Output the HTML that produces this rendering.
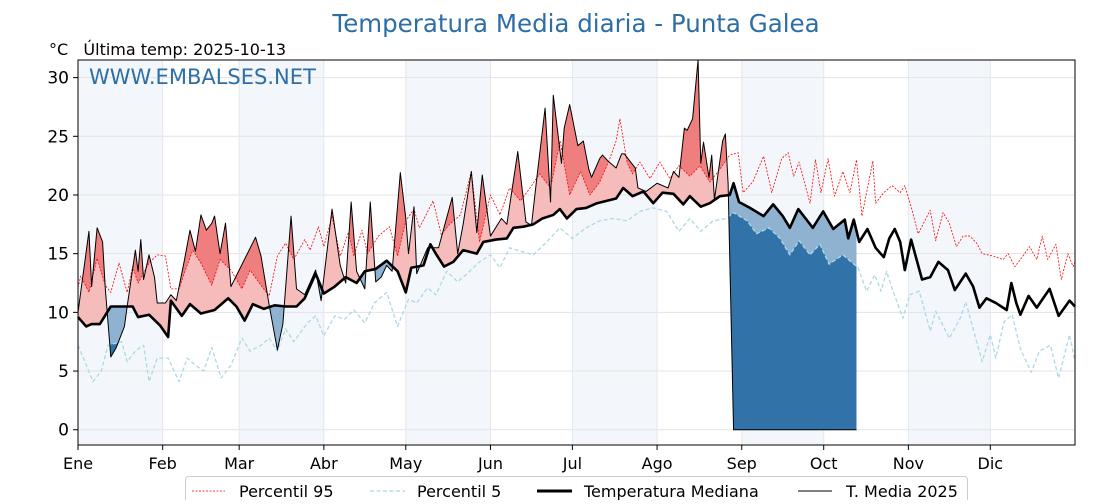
<!DOCTYPE html>
<html><head><meta charset="utf-8"><style>
html,body{margin:0;padding:0;background:#fff;}
body{width:1120px;height:500px;overflow:hidden;font-family:"DejaVu Sans","Liberation Sans",sans-serif;}
svg text{font-family:"DejaVu Sans","Liberation Sans",sans-serif;}
</style></head><body>
<svg id="chart" width="1120" height="500" xmlns="http://www.w3.org/2000/svg">
<text x="576" y="32" text-anchor="middle" font-size="24.5" fill="#2e6ea6">Temperatura Media diaria - Punta Galea</text>
<text x="49" y="55" font-size="16" fill="#000">°C&#160;&#160;&#160;Última temp: 2025-10-13</text>
<g id="bands"></g><g id="grid"></g><g id="fills"></g><g id="lines"></g>
<rect x="78" y="60" width="997" height="385" fill="none" stroke="#000" stroke-width="1"/>
<text x="89" y="84" font-size="21" fill="#2e6ea6">WWW.EMBALSES.NET</text>
<g id="axes"></g>
<g>
<rect x="185.5" y="476.5" width="782" height="30" rx="3" fill="#fff" stroke="#ccc"/>
<line x1="192" y1="491" x2="225" y2="491" stroke="red" stroke-width="0.8" stroke-dasharray="2,1.5"/>
<text x="239" y="497" font-size="16">Percentil 95</text>
<line x1="370" y1="491" x2="405" y2="491" stroke="#add8e6" stroke-width="1.2" stroke-dasharray="4,2.5"/>
<text x="417" y="497" font-size="16">Percentil 5</text>
<line x1="537" y1="491" x2="572" y2="491" stroke="#000" stroke-width="3"/>
<text x="584" y="497" font-size="16">Temperatura Mediana</text>
<line x1="798" y1="491" x2="832" y2="491" stroke="#000" stroke-width="1"/>
<text x="846" y="497" font-size="16">T. Media 2025</text>
</g>
</svg>
<script>
const monthLabels=["Ene","Feb","Mar","Abr","May","Jun","Jul","Ago","Sep","Oct","Nov","Dic"];
const monthStarts=[0,31,59,90,120,151,181,212,243,273,304,334];
const yTicks=[0,5,10,15,20,25,30];
const medianDays=[0,3,5,8,12,20,22,26,30,33,34,38,41,45,50,55,58,61,64,68,72,76,80,83,87,90,94,98,102,105,109,113,117,120,122,126.5,129,131,134,137.4,141,146,148.4,153,157,159.4,163,166.7,170,174,176.4,179,182.5,186,190,193.5,197,199.6,203,207,210.6,214,218,221.6,224,228,231.3,235,238.6,240,242,246,251,254.5,258,260.6,263.7,266.7,269,272.8,276.5,280.7,282,284,286,289,292,295,297,299,301,302.7,305,309,312,315,318.5,321,325,327.7,330,332.6,336,340,341.7,343.5,345,348,351,355.7,359,363,365];
const medianVals=[9.6,8.8,9,9,10.5,10.5,9.6,9.8,8.9,7.9,11,9.7,10.7,9.9,10.2,11.2,10.5,9.3,10.7,10.3,10.6,10.5,10.5,11.2,13.3,11.6,12.2,13,12.5,13.5,13.7,14.4,13.5,11.7,13.8,14,15.8,15,13.9,14.3,15.3,15,16,16.2,16.3,17.2,17.3,17.5,18,18.3,18.8,18,18.8,18.9,19.3,19.5,19.7,20.6,19.9,20.3,19.3,20.2,20.1,19.2,19.9,19,19.3,19.9,20,21,19.4,18.9,18.2,19.2,18.2,17.2,18.8,17.9,17.2,18.6,17.1,17.9,16.3,17.9,16,17.1,15.5,14.7,16.3,17.1,16,13.6,16.2,12.8,13,14.3,13.6,11.9,13.3,12.2,10.4,11.2,10.8,10.2,12.5,10.8,9.8,11.4,10.4,12,9.7,11,10.5];
const p95Days=[0,1,4,7,10,12,15,18,20,22,26,29,32,34,37,39,42,45,49,52,56,60,63,67,70,73,76,79,83,85,88,90,93,96,99,101,104,106,110,114,117,120,123,125,130,133,136,140,144,147,151,154.5,158,162,165.5,169,173,176.5,180,184,187.4,191,194.7,197,198.4,201,203,205.7,209.4,213,216.7,220,224,227.7,231.3,235,238.6,241.7,243.5,247,251,254,257.6,260,262,264,268,270,272,274.6,277,280,282.6,285,287,291,292,295,298,301,302.7,305,307.6,310,312,314,316.7,319,321.6,324,326.5,329,331,335,338.7,340.5,343,345,348.4,351,353,355,358,360,362.4,364.3,365];
const p95Vals=[12.1,13.1,11.7,14.6,12.3,11.7,14.2,11.7,13.9,12.5,14.2,14.9,14.8,12,12,13.4,15.3,14.2,12.3,14.5,13.6,12,13.6,12.3,11.4,14.8,15.9,14.5,16.2,15.3,17.3,15.6,18.2,14.8,16.8,14.8,17,15,16.5,17.3,14.8,17.8,18.8,17.2,19.5,16.6,17.5,18.3,22,16,20,18.3,20.6,19.5,20.6,21.8,20.6,24.6,20,22,20,21.1,23.1,24.6,26.5,22.8,21.8,22.8,21.4,22.8,21.4,22.5,21.6,22.5,21.1,22.2,23.4,23.6,20.2,21.1,23.3,20.2,23.1,23.6,21.6,22.8,19.3,23,20.2,23.1,19.9,22,20.2,23,18.2,22.9,19.3,20.2,20.8,20.2,20.8,19,16.7,17.8,18.7,16.1,18.5,17.6,15.6,16.5,16.5,15.9,15,14.8,14.5,15,13.9,14.5,15.6,14.5,16.5,14.5,15.8,12.8,15,13.9,14.3];
const p5Days=[0,2,5.5,8.5,11,16,18,21,24,26,29,33,37,40,43,46,49,52.4,56,60,63,67,70,73,76,79,84,87,90,94,97.5,101,105,108.5,113,117,121,124,128,131,135,139,142,147,151,154.5,158,162,166.7,171.6,176.4,181,186,191,196,201,205.7,210.6,215.5,220,224,228,232.5,237.4,240,245,248.4,253,257,260.6,264,268,271.6,275,280,285.6,288.7,291.7,294,296,298.4,302,304.5,308,312,314,319,323,325,327.7,331,334,336,339,342,345,349,352,356,359,363,365];
const p5Vals=[7.2,6.1,4.1,5,7.2,7.5,5.8,6.7,7.2,4.1,6.1,6.1,4.1,6.1,5.5,5,7,4.4,5.5,7.8,6.7,7.2,7.8,6.7,8.6,7.5,9.1,9.7,8,9.7,9.4,10.2,9.1,10.8,11.7,8.8,11.1,10.8,12.1,11.5,13.5,12.6,13.2,14.3,14.9,13.8,15.5,15.2,14.9,16,17.2,16.3,17.2,17.8,18,17.8,18.6,18.9,18.6,16.9,18,16.9,17.8,18,18.5,17.8,16.7,17.2,16.3,14.9,16.1,14.9,15.8,14.1,14.9,13.8,11.8,13.2,11.8,13.5,11.8,9.5,11.5,11.8,8.4,10.1,7.8,9.5,10.9,8.6,5.8,8.1,6.1,9.2,9.8,6.9,4.9,6.7,7.2,4.4,8.1,5.8];
const t2025Days=[0,4,5,7,9,10,12,14,17,18,21,22,23,24,26,28,29,32,34,36,39,41,43,45,47,49,50,52,54,56,65,67,70,73,75,78,80,83,87,89,93,96,98,100,102,105,107,109,111,113,115,118,120,121,123,124,128,132,137,139,141,144,146,148,151,155,157,161,164,166,168,171,173,174,177,178,180,183,185,187,188,191,192,194,197,199,200,204,205,208,212,216,218,220,222,223,225,227,228,229,231,232,233,236,237,238,240,285];
const t2025Vals=[10,16.9,12.2,17.2,16,12,6.2,7,8.8,10.5,15.3,13.5,16.2,12.8,14.9,13,10.8,10.8,11.5,11,14.5,17,15.2,18.3,17,17.6,18.2,15,17.6,12.2,16.4,14.8,10.6,6.8,9,18.2,12,11.5,13.6,11,18.8,14,12.5,19.4,13.5,12,19.4,12.6,13,14,13.5,21.9,18,15,19,13.3,15.5,15.5,19.8,15,17.5,22,16.8,21.7,16.5,18,17.5,23.7,17.7,17.4,21.5,27.4,19.4,28.5,22.7,25.7,27.7,24.2,24.6,22.2,21.5,23.1,23.4,22.9,22.3,23.5,23.5,22.3,20.6,20.3,21,20.6,22,21.5,25.7,25.5,26.5,31.5,22.7,24.5,21.5,23.4,19.6,24.6,25.2,21,0,0];

const X0=78,X1=1075,Y0=445,Y1=60,DMIN=-1.3,DMAX=31.5;
const xs=d=>X0+d*(X1-X0)/365;
const ys=t=>Y0-(t-DMIN)*(Y0-Y1)/(DMAX-DMIN);
const NS="http://www.w3.org/2000/svg";
function mk(tag,attrs,parent){const e=document.createElementNS(NS,tag);for(const k in attrs)e.setAttribute(k,attrs[k]);document.getElementById(parent).appendChild(e);return e;}
for(let i=0;i<12;i+=2){const a=monthStarts[i],b=i+1<12?monthStarts[i+1]:365;
const r=mk('rect',{x:xs(a),y:Y1,width:xs(b)-xs(a),height:Y0-Y1,fill:'#f3f7fb'},'bands');

}
yTicks.forEach(t=>{const l=mk('line',{x1:X0,x2:X1,y1:ys(t),y2:ys(t),stroke:'#e3e3e3','stroke-width':1},'grid');


const tk=mk('line',{x1:X0-5,x2:X0,y1:ys(t),y2:ys(t),stroke:'#000'},'axes');


const tx=mk('text',{x:X0-9,y:ys(t)+6,'text-anchor':'end','font-size':17},'axes');tx.textContent=t;

});
monthStarts.forEach((d,i)=>{const l=mk('line',{x1:xs(d),x2:xs(d),y1:Y1,y2:Y0,stroke:'#e3e8ee','stroke-width':1},'grid');


const tk=mk('line',{x1:xs(d),x2:xs(d),y1:Y0,y2:Y0+5,stroke:'#000'},'axes');


const tx=mk('text',{x:xs(d),y:469,'text-anchor':'middle','font-size':16},'axes');tx.textContent=monthLabels[i];

});
function at(days,vals,d){if(d<=days[0])return vals[0];for(let i=1;i<days.length;i++){if(d<=days[i]){const f=(d-days[i-1])/(days[i]-days[i-1]);return vals[i-1]+f*(vals[i]-vals[i-1]);}}return vals[vals.length-1];}
const lastDay=t2025Days[t2025Days.length-1];
const grid=[];for(let d=0;d<=lastDay;d+=0.25)grid.push(d);
function band(upF,loF,color,name){let up=[],lo=[];grid.forEach(d=>{up.push([xs(d),ys(upF(d))]);lo.push([xs(d),ys(loF(d))]);});
const pts=up.concat(lo.reverse()).map(p=>p[0].toFixed(2)+','+p[1].toFixed(2)).join(' ');
const p=mk('polygon',{points:pts,fill:color,stroke:'none'},'fills');

}
const T=d=>at(t2025Days,t2025Vals,d),M=d=>at(medianDays,medianVals,d),P95=d=>at(p95Days,p95Vals,d),P5=d=>at(p5Days,p5Vals,d);
band(d=>Math.max(T(d),M(d)),M,'#f6bcbc','above-median-fill');
band(d=>Math.max(T(d),P95(d)),P95,'#ef7f7f','above-p95-fill');
band(M,d=>Math.min(T(d),M(d)),'#8fb2d1','below-median-fill');
band(P5,d=>Math.min(T(d),P5(d)),'#3173a8','below-p5-fill');
function line(days,vals,attrs,name){const pts=days.map((d,i)=>xs(d).toFixed(2)+','+ys(vals[i]).toFixed(2)).join(' ');
attrs.points=pts;attrs.fill='none';attrs['stroke-linejoin']='round';const p=mk('polyline',attrs,'lines');

}
line(p5Days,p5Vals,{stroke:'#add8e6','stroke-width':1.3,'stroke-dasharray':'4,2.5'},'p5-line');
line(p95Days,p95Vals,{stroke:'red','stroke-width':0.8,'stroke-dasharray':'2,1.5'},'p95-line');
line(medianDays,medianVals,{stroke:'#000','stroke-width':2.6},'median-line');
line(t2025Days,t2025Vals,{stroke:'#000','stroke-width':1},'t2025-line');
</script>
</body></html>
